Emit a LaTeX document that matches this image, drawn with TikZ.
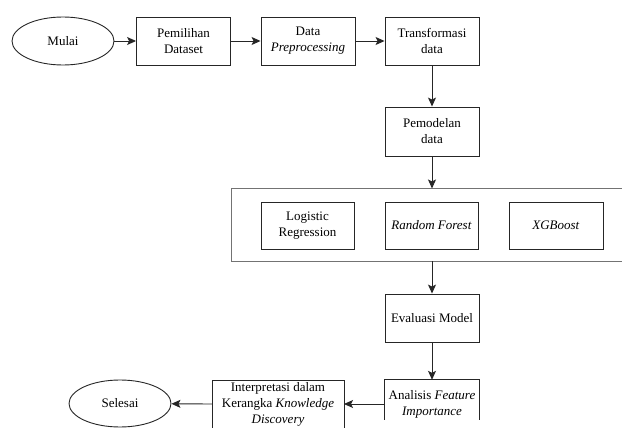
\documentclass[tikz,border=0pt]{standalone}
\usepackage{fontspec}
\setmainfont{Liberation Serif}[Ligatures=TeX]
\usetikzlibrary{arrows.meta,shapes.geometric}
\begin{document}
\begin{tikzpicture}[x=1pt,y=-1pt,
  every node/.style={font=\fontsize{13}{16}\selectfont, align=center, inner sep=1pt},
  procbox/.style={draw=black!85, line width=0.9pt, minimum width=94pt, minimum height=48pt},
  termel/.style={draw=black!85, line width=0.9pt, ellipse, minimum width=102pt, minimum height=48pt},
  textonly/.style={minimum width=94pt, minimum height=48pt},
  openbox/.style={draw=black!85, line width=0.9pt},
  flow/.style={draw=black!85, line width=0.9pt, -{Stealth[length=9pt,width=8pt,inset=2pt]}},
  grp/.style={draw=black!55, line width=0.9pt}]
\useasboundingbox (0,0) rectangle (622,428);
\clip (0,0) rectangle (622,428);
% top row
\node[termel] (mulai) at (63,41) {Mulai};
\node[procbox] (pem) at (183.5,41) {Pemilihan\\Dataset};
\node[procbox] (pre) at (308,41) {Data\\\textit{Preprocessing}};
\node[procbox] (tra) at (432,41) {Transformasi\\data};
\node[procbox, minimum height=49pt] (mod) at (432,131.5) {Pemodelan\\data};
% group
\coordinate (gnw) at (231,188.5);
\coordinate (gse) at (640,261);
\draw[grp] (gnw) rectangle (gse);
\coordinate (gtop) at (432,188.5);
\coordinate (gbot) at (432,261);
\node[procbox, minimum width=93pt, minimum height=47pt] (lr) at (307.5,225.5) {Logistic\\Regression};
\node[procbox, minimum width=93pt, minimum height=47pt] (rf) at (431.5,225.5) {\textit{Random Forest}};
\node[procbox, minimum width=94pt, minimum height=47pt] (xgb) at (556,225.5) {\textit{XGBoost}};
% lower column
\node[procbox] (eva) at (432,318) {Evaluasi Model};
\node[textonly] (ana) at (432,404) {Analisis \textit{Feature}\\\textit{Importance}};
\draw[openbox] ([yshift=-40pt]ana.north west) -- (ana.north west) -- (ana.north east) -- ([yshift=-40pt]ana.north east);
\node[textonly, minimum width=132pt] (int) at (278,404) {Interpretasi dalam\\Kerangka \textit{Knowledge}\\\textit{Discovery}};
\coordinate (intnw) at (212,380);
\coordinate (intne) at (344,380);
\draw[openbox] ([yshift=-60pt]intnw) -- (intnw) -- (intne) -- ([yshift=-60pt]intne);
\node[termel, minimum height=47pt] (sel) at (120,403.5) {Selesai};
% connectors
\draw[flow] (mulai) -- (pem);
\draw[flow] (pem) -- (pre);
\draw[flow] (pre) -- (tra);
\draw[flow] (tra) -- (mod);
\draw[flow] (mod) -- (gtop);
\draw[flow] (gbot) -- (eva);
\draw[flow] (eva) -- (ana.north);
\draw[flow] (ana.west) -- (intne |- ana.west);
\draw[flow] (intnw |- int.west) -- (sel);
\end{tikzpicture}
\end{document}
